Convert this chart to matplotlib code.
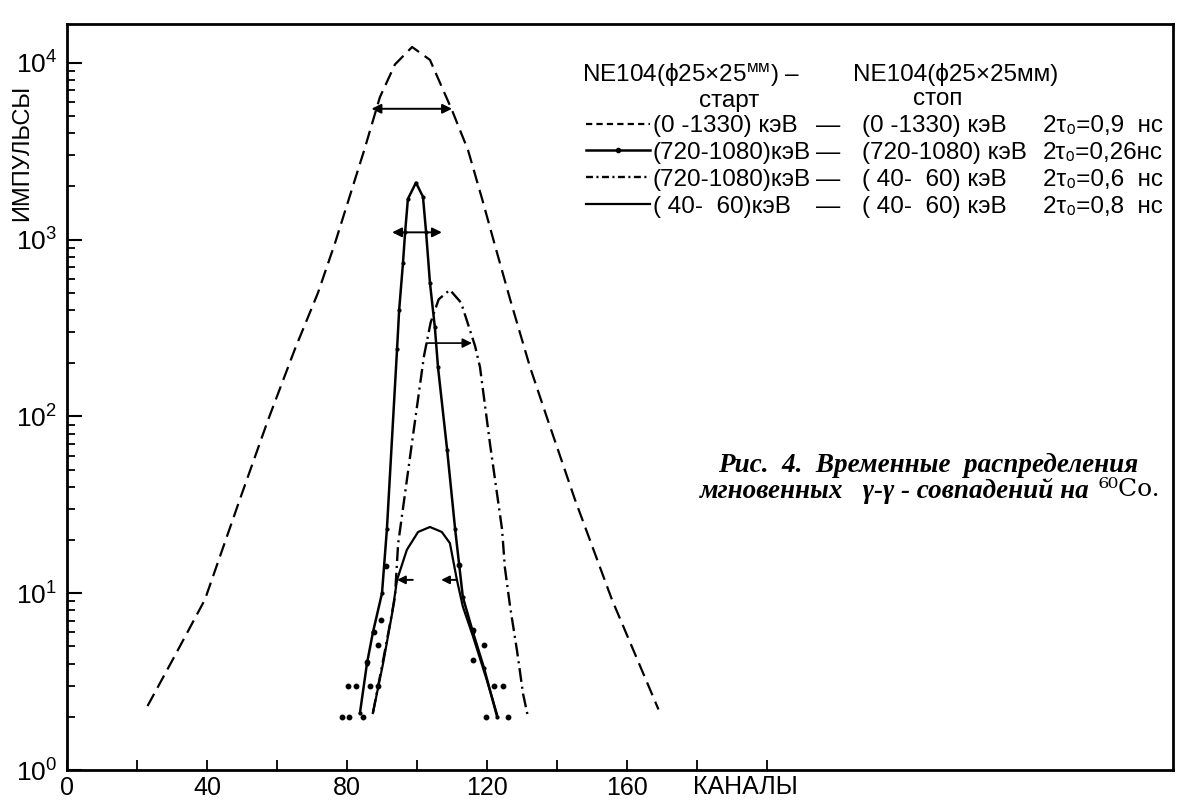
import numpy as np
import matplotlib
matplotlib.use('Agg')
import matplotlib.pyplot as plt
from matplotlib.lines import Line2D
from matplotlib.ticker import LogLocator, NullFormatter

plt.rcParams['font.family'] = ['Liberation Sans', 'DejaVu Sans']
plt.rcParams['mathtext.fontset'] = 'custom'
plt.rcParams['mathtext.rm'] = 'Liberation Sans'
plt.rcParams['mathtext.it'] = 'Liberation Sans'
plt.rcParams['lines.scale_dashes'] = False

# (0-1330) keV - (0-1330) keV, 2t0 = 0.9 ns
ch_wide = [23, 31, 39.4, 49.4, 57.4, 65.1, 71.7, 76.6, 84.9, 89.4, 93.7, 98.6, 103.7,
           110, 114.6, 118.6, 122.6, 126.6, 132.3, 137.4, 145.1, 155.7, 169]
cnt_wide = [2.3, 4.5, 9.2, 34, 95, 240, 500, 960, 3200, 6400, 9800, 12300, 10400,
            5400, 3200, 1700, 880, 460, 190, 95, 34, 9.2, 2.2]

# (720-1080) keV - (720-1080) keV, 2t0 = 0.26 ns
ch_fast = [83.7, 85.7, 87.4, 90, 91.4, 94.3, 94.9, 96, 96.6, 97.4, 99.7, 101.7, 102.6, 103.7,
           105.1, 106, 108.6, 110.9, 113.1, 116, 119.1, 122.9]
cnt_fast = [2.1, 4.0, 6.0, 10, 23, 240, 400, 740, 1100, 1700, 2100, 1750, 1100, 570,
            320, 190, 65, 23, 9.5, 6.0, 3.8, 2.0]

# (720-1080) keV - (40-60) keV, 2t0 = 0.6 ns
ch_mix = [87.4, 90.9, 93.7, 94.6, 98.3, 102, 103.9, 106.2, 109.4, 112.6, 116.6, 118, 120.9,
          124.3, 125.1, 126.6, 128.6, 130.3, 131.7]
cnt_mix = [2.1, 4.8, 9.5, 19, 65, 220, 340, 460, 520, 440, 250, 190, 69,
           23, 14, 8.4, 4.7, 2.7, 2.0]

# (40-60) keV - (40-60) keV, 2t0 = 0.8 ns
ch_soft = [87.4, 90.3, 92.9, 94.3, 97.1, 100.3, 103.7, 107.1, 109.4, 111.4, 113.1, 116, 120, 122.9]
cnt_soft = [2.1, 4.0, 7.7, 11.9, 17.6, 22.2, 23.7, 22.2, 19.2, 11.9, 8.4, 5.7, 3.2, 2.05]

# measured points in the tails
pts_ch = [78.6, 80.6, 84.6, 80.3, 82.6, 86.6, 88.9, 119.7, 126, 122, 124.6,
          91.1, 89.7, 87.7, 88.9, 85.7, 112, 116, 119.1, 116]
pts_cnt = [2, 2, 2, 3, 3, 3, 3, 2, 2, 3, 3,
           14.3, 7.1, 6.0, 5.1, 4.1, 14.4, 6.2, 5.1, 4.2]

# FWHM markers: (x_from, x_to, level)
fwhm_wide = (87, 110, 5500)
fwhm_fast = (92.9, 107.1, 1100)
fwhm_mix = (102.6, 115.7, 260)
fwhm_soft = (94.3, 111.4, 11.9)

legend_start = ['(0 -1330) кэВ', '(720-1080)кэВ', '(720-1080)кэВ', '( 40-  60)кэВ']
legend_stop = ['(0 -1330) кэВ', '(720-1080) кэВ', '( 40-  60) кэВ', '( 40-  60) кэВ']
legend_tau = ['2τ₀=0,9  нс', '2τ₀=0,26нс', '2τ₀=0,6  нс', '2τ₀=0,8  нс']

W, H = 1181, 802
fig = plt.figure(figsize=(W / 100, H / 100), dpi=100)
ax = fig.add_axes([67 / W, 32 / H, (1173 - 67) / W, (770 - 24) / H])


def fx(px):
    return px / W


def fy(py):
    return 1 - py / H


ls_wide = (0, (10, 5))
ls_mix = (0, (10, 3.5, 1.5, 3.5))

ax.plot(ch_wide, cnt_wide, color='k', lw=1.6, ls=ls_wide)
ax.plot(ch_fast, cnt_fast, color='k', lw=1.8, marker='.', ms=4)
ax.plot(ch_mix, cnt_mix, color='k', lw=1.7, ls=ls_mix)
ax.plot(ch_soft, cnt_soft, color='k', lw=1.6)
ax.plot(pts_ch, pts_cnt, ls='none', marker='o', ms=3.2, color='k')

arrow = dict(arrowstyle='<|-|>', color='k', lw=1.4, mutation_scale=14, shrinkA=0, shrinkB=0)
for x0, x1, lev in (fwhm_wide, fwhm_fast):
    ax.annotate('', xy=(x1, lev), xytext=(x0, lev), arrowprops=arrow)
ax.annotate('', xy=(fwhm_mix[1], fwhm_mix[2]), xytext=(fwhm_mix[0], fwhm_mix[2]),
            arrowprops=dict(arrowstyle='-|>', color='k', lw=1.2, mutation_scale=14,
                            shrinkA=0, shrinkB=0))
one = dict(arrowstyle='-|>', color='k', lw=1.4, mutation_scale=12, shrinkA=0, shrinkB=0)
ax.annotate('', xy=(fwhm_soft[0], fwhm_soft[2]), xytext=(fwhm_soft[0] + 4.5, fwhm_soft[2]),
            arrowprops=one)
ax.annotate('', xy=(fwhm_soft[1] - 4.5, fwhm_soft[2]), xytext=(fwhm_soft[1], fwhm_soft[2]),
            arrowprops=one)

ax.set_yscale('log')
ax.set_xlim(0, 316)
ax.set_ylim(1, 10 ** 4.22)

ax.set_yticks([1, 10, 100, 1000, 10000])
ax.set_yticklabels([r'$10^{%d}$' % k for k in range(5)])
ax.yaxis.set_minor_locator(LogLocator(base=10, subs=range(2, 10)))
ax.yaxis.set_minor_formatter(NullFormatter())
ax.tick_params(axis='y', which='major', direction='in', length=11, width=1.5,
               labelsize=19, pad=7)
ax.tick_params(axis='y', which='minor', direction='in', length=6, width=1.3)

xt = list(range(0, 201, 20))
ax.set_xticks(xt)
ax.set_xticklabels([str(v) if v % 40 == 0 and v <= 160 else '' for v in xt])
ax.tick_params(axis='x', direction='in', length=7, width=1.3, labelsize=18, pad=4)

for s in ax.spines.values():
    s.set_linewidth(2)

fig.text(fx(745), fy(787), 'КАНАЛЫ', fontsize=18, ha='center', va='center')
fig.text(fx(22), fy(153), 'ИМПУЛЬСЫ', fontsize=17, rotation=90, ha='center', va='center')

handles = [
    Line2D([], [], color='k', lw=1.6, ls=(0, (4.5, 3))),
    Line2D([], [], color='k', lw=1.8, marker='.', ms=6),
    Line2D([], [], color='k', lw=1.7, ls=(0, (5, 2.5, 1.5, 2.5))),
    Line2D([], [], color='k', lw=1.6),
]
leg = fig.legend(handles, legend_start, loc='upper left', bbox_to_anchor=(fx(586), fy(115)),
                 frameon=False, fontsize=17.5, handlelength=2.65, handletextpad=0.1,
                 labelspacing=0.2, borderpad=0, borderaxespad=0)

fig.text(fx(582), fy(75), r'NE104(ϕ25×25$^{мм}$) –', fontsize=17.5, va='center')
fig.text(fx(853), fy(75), 'NE104(ϕ25×25мм)', fontsize=17.5, va='center')
fig.text(fx(729), fy(101), 'старт', fontsize=17.5, ha='center', va='center')
fig.text(fx(938), fy(99), 'стоп', fontsize=17.5, ha='center', va='center')

fig.canvas.draw()
for t, stop, tau in zip(leg.get_texts(), legend_stop, legend_tau):
    bb = t.get_window_extent()
    yc = (bb.y0 + bb.y1) / 2
    fig.text(816, yc, '—', fontsize=17.5, va='center', transform=None)
    fig.text(862, yc, stop, fontsize=17.5, va='center', transform=None)
    fig.text(1043, yc, tau, fontsize=17.5, va='center', transform=None)

cap = dict(family='Liberation Serif', style='italic', weight='bold', fontsize=19.5)
fig.text(fx(718), fy(465), 'Рис.  4.  Временные  распределения', va='center', **cap)
t2 = fig.text(fx(700), fy(491), 'мгновенных   γ-γ - совпадений на ', va='center', **cap)
fig.canvas.draw()
bb = t2.get_window_extent()
fig.text(bb.x1 + 2, bb.y0 + bb.height / 2 + 1, '⁶⁰Co.', family='DejaVu Serif', fontsize=18,
         va='center', transform=None)

fig.savefig('out.png', dpi=100)
